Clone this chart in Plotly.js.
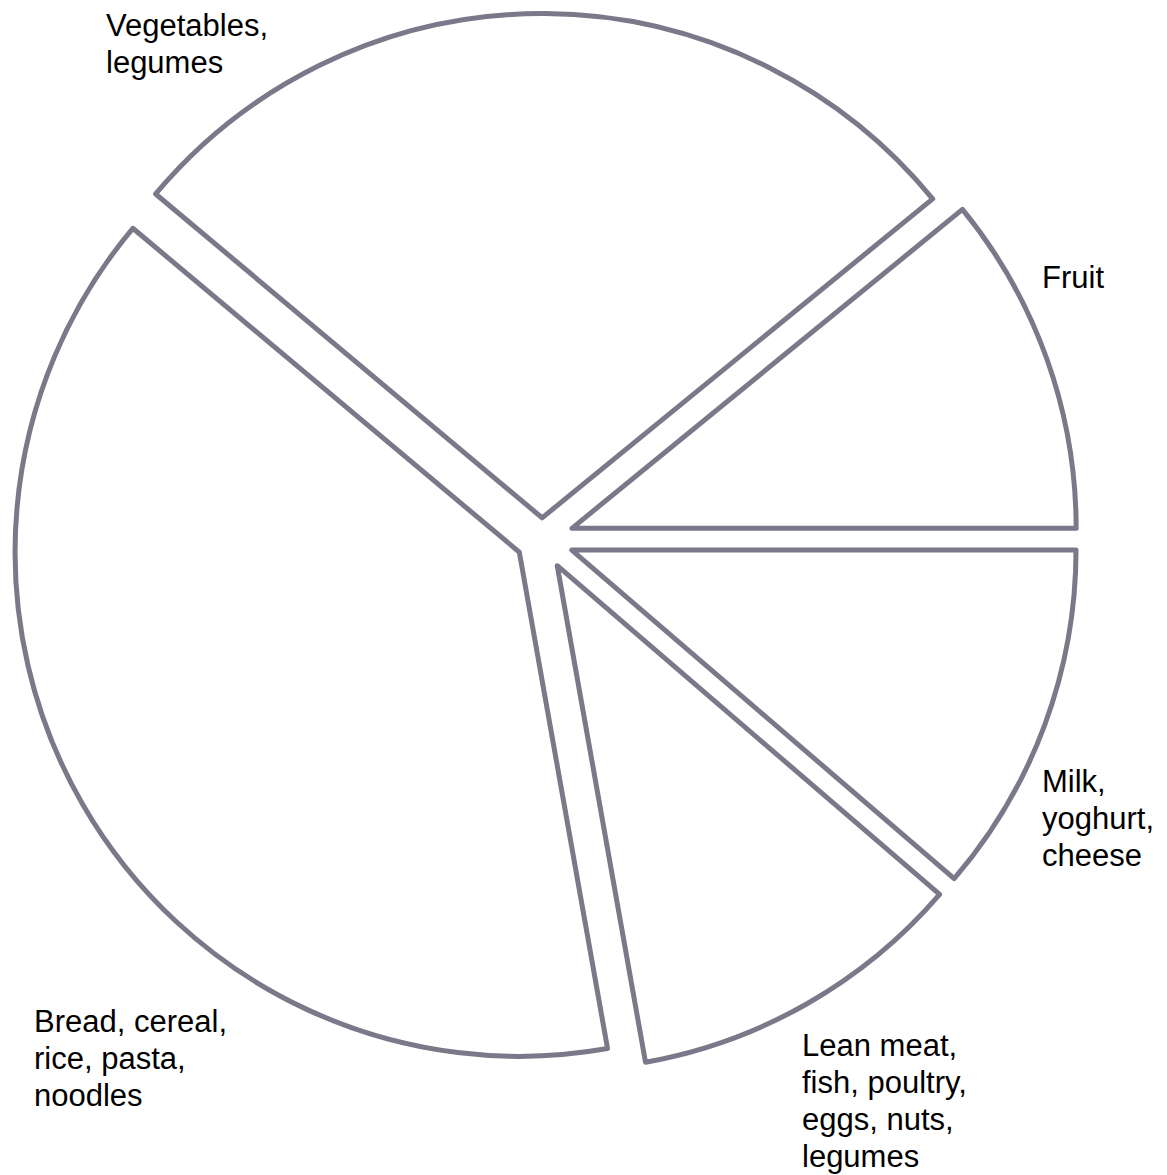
<!DOCTYPE html>
<html>
<head>
<meta charset="utf-8">
<script src="https://cdn.plot.ly/plotly-3.0.1.min.js"></script>
<style>
  html, body { margin: 0; padding: 0; background: #ffffff; }
  #chart { width: 1167px; height: 1175px; }
</style>
</head>
<body>
<div id="chart"></div>
<script>
// ---- data ----
const categories = [
  "Fruit",
  "Vegetables, legumes",
  "Bread, cereal, rice, pasta, noodles",
  "Lean meat, fish, poultry, eggs, nuts, legumes",
  "Milk, yoghurt, cheese"
];
const shares = [10.9, 28.0, 38.9, 10.9, 11.3];
const labelLines = [
  ["Fruit"],
  ["Vegetables,", "legumes"],
  ["Bread, cereal,", "rice, pasta,", "noodles"],
  ["Lean meat,", "fish, poultry,", "eggs, nuts,", "legumes"],
  ["Milk,", "yoghurt,", "cheese"]
];

// ---- layout / style ----
const W = 1167, H = 1175;
const M = { l: 6, r: 89, t: 3, b: 100 };
const plotW = W - M.l - M.r, plotH = H - M.t - M.b;
const pulls = [0.063, 0.042, 0.052, 0.061, 0.063];
const labelPos = [        // left x, first baseline y (pixels)
  [1040, 288],
  [104, 36],
  [32, 1032],
  [800, 1056],
  [1040, 792]
];
const fontSize = 31, lineGap = 37;

const total = shares.reduce((a, b) => a + b, 0);
// first slice should sit just above 3 o'clock, running counterclockwise
const rotation = 90 - shares[0] / total * 360;

const annotations = [];
labelLines.forEach((lines, i) => {
  lines.forEach((t, j) => {
    const px = labelPos[i][0];
    const py = labelPos[i][1] + j * lineGap - 0.35 * fontSize;
    annotations.push({
      text: t, showarrow: false,
      xref: 'paper', yref: 'paper',
      x: (px - M.l) / plotW, y: 1 - (py - M.t) / plotH,
      xanchor: 'left', yanchor: 'middle',
      font: { family: 'Liberation Sans, Arial, sans-serif', size: fontSize, color: '#000000' }
    });
  });
});

const trace = {
  type: 'pie',
  labels: categories,
  values: shares,
  sort: false,
  direction: 'counterclockwise',
  rotation: rotation,
  pull: pulls,
  textinfo: 'none',
  hoverinfo: 'label+percent',
  marker: {
    colors: categories.map(() => '#ffffff'),
    line: { color: '#7a7889', width: 5 }
  },
  domain: { x: [0, 1], y: [0, 1] }
};

const layout = {
  width: W, height: H,
  margin: M,
  showlegend: false,
  paper_bgcolor: '#ffffff',
  plot_bgcolor: '#ffffff',
  annotations: annotations
};

Plotly.newPlot('chart', [trace], layout, { displayModeBar: false, staticPlot: true });
</script>
</body>
</html>
